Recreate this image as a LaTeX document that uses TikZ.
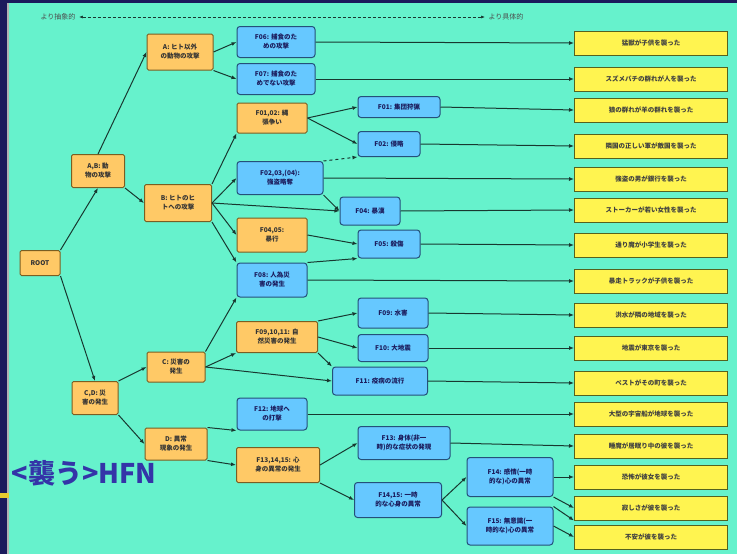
\documentclass[tikz,border=0pt]{standalone}
\usepackage{fontspec}
\newfontfamily\jpfont{Noto Sans CJK JP}
\usetikzlibrary{arrows.meta}
\definecolor{panel}{HTML}{66F2CC}
\definecolor{navy}{HTML}{1B1B5C}
\definecolor{grpfill}{HTML}{FFC966}
\definecolor{grpline}{HTML}{7A5E22}
\definecolor{clsfill}{HTML}{66C8FF}
\definecolor{clsline}{HTML}{24507A}
\definecolor{leaffill}{HTML}{FFF450}
\definecolor{leafline}{HTML}{55621E}
\definecolor{linecol}{HTML}{183830}
\definecolor{titleblue}{HTML}{3434A8}

\begin{document}
\begin{tikzpicture}[x=1pt,y=-1pt,
  grp/.style={draw=grpline,fill=grpfill,line width=1pt,rounded corners=1.5pt,align=center,inner sep=1pt,
    font=\jpfont\bfseries\fontsize{6.5}{9}\selectfont,text=black!80},
  cls/.style={grp,draw=clsline,fill=clsfill,rounded corners=3pt,text=navy},
  leaf/.style={draw=leafline,fill=leaffill,line width=1pt,minimum width=153pt,minimum height=24pt,
    font=\jpfont\bfseries\fontsize{6.5}{8}\selectfont,text=black!75},
  sz/.style 2 args={minimum width=#1pt,minimum height=#2pt},
  link/.style={-{Latex[length=5pt,width=4pt]},line width=1pt,draw=linecol}]
  \useasboundingbox (0,0) rectangle (737,554);
  \fill[navy] (0,0) rectangle (737,554);
  \fill[panel] (9,3) rectangle (737,554);
  \fill[black!30] (7,3) rectangle (9,554);
  \fill[yellow!60!brown] (0,493) rectangle (9,498);

  % abstract <-> concrete
  \node[font=\jpfont\fontsize{7}{8}\selectfont,text=black!70] (abs) at (58,17) {より抽象的};
  \node[font=\jpfont\fontsize{7}{8}\selectfont,text=black!70] (con) at (506,17) {より具体的};
  \draw[{Latex[length=4pt]}-{Latex[length=4pt]},densely dashed,line width=0.7pt,draw=linecol] (abs) -- (con);

  % inner groups
  \node[grp,sz={40}{25}] (root) at (40,263) {ROOT};
  \node[grp,sz={53}{33}] (ab) at (98,171) {A,B: 動\\物の攻撃};
  \node[grp,sz={46}{33}] (cd) at (95,398) {C,D: 災\\害の発生};
  \node[grp,sz={66}{36}] (a) at (180,52) {A: ヒト以外\\の動物の攻撃};
  \node[grp,sz={67}{37}] (b) at (178,203) {B: ヒトのヒ\\トへの攻撃};
  \node[grp,sz={58}{30}] (c) at (176,367) {C: 災害の\\発生};
  \node[grp,sz={62}{32}] (d) at (176,444) {D: 異常\\現象の発生};
  \node[grp,sz={70}{30}] (f0102) at (272,118) {F01,02: 縄\\張争い};
  \node[grp,sz={70}{34}] (f0405) at (272,235) {F04,05:\\暴行};
  \node[grp,sz={81}{31}] (f0911) at (277,337) {F09,10,11: 自\\然災害の発生};
  \node[grp,sz={83}{35}] (f1315) at (278,465) {F13,14,15: 心\\身の異常の発生};

  % classes
  \node[cls,sz={78}{31}] (f06) at (276,42) {F06: 捕食のた\\めの攻撃};
  \node[cls,sz={78}{31}] (f07) at (276,79) {F07: 捕食のた\\めでない攻撃};
  \node[cls,sz={82}{21}] (f01) at (399,107) {F01: 集団狩猟};
  \node[cls,sz={62}{25}] (f02) at (389,144) {F02: 侵略};
  \node[cls,sz={86}{33}] (f0203) at (280,178) {F02,03,(04):\\強盗略奪};
  \node[cls,sz={60}{28}] (f04) at (370,211) {F04: 暴漢};
  \node[cls,sz={62}{28}] (f05) at (389,244) {F05: 殺傷};
  \node[cls,sz={70}{34}] (f08) at (272,280) {F08: 人為災\\害の発生};
  \node[cls,sz={70}{30}] (f09) at (393,313) {F09: 水害};
  \node[cls,sz={70}{27}] (f10) at (393,348) {F10: 大地震};
  \node[cls,sz={95}{28}] (f11) at (380,381) {F11: 疫病の流行};
  \node[cls,sz={70}{32}] (f12) at (272,414) {F12: 地球へ\\の打撃};
  \node[cls,sz={92}{33}] (f13) at (404,443) {F13: 身体(非一\\時)的な症状の発現};
  \node[cls,sz={87}{35}] (f1415) at (398,500) {F14,15: 一時\\的な心身の異常};
  \node[cls,sz={86}{39}] (f14) at (510,477) {F14: 感情(一時\\的な)心の異常};
  \node[cls,sz={86}{38}] (f15) at (510,526) {F15: 無意識(一\\時的な)心の異常};

  % instances
  \foreach \y/\t [count=\i] in {43/猛獣が子供を襲った,79/スズメバチの群れが人を襲った,
      110/狼の群れが羊の群れを襲った,146/隣国の正しい軍が敵国を襲った,
      179/強盗の男が銀行を襲った,210/ストーカーが若い女性を襲った,
      245/通り魔が小学生を襲った,281/暴走トラックが子供を襲った,
      315/洪水が隣の地域を襲った,348/地震が東京を襲った,
      383/ペストがその町を襲った,414/大型の宇宙船が地球を襲った,
      446/睡魔が居眠り中の彼を襲った,477/恐怖が彼女を襲った,
      508/寂しさが彼を襲った,537/不安が彼を襲った}
    \node[leaf] (l\i) at (651,\y) {\t};

  % tree links
  \draw[link] (root.north east) -- (ab.south);
  \draw[link] (root.south east) -- (cd.north);
  \draw[link] (ab.north) -- (a.west);
  \draw[link] (ab.south east) -- (b.west);
  \draw[link] (cd.north east) -- (c.west);
  \draw[link] (cd.south east) -- (d.west);
  \draw[link] (a.east) -- (f06.west);
  \draw[link] (a.south east) -- (f07.west);
  \draw[link] (b.north east) -- (f0102.south west);
  \draw[link] (b.east) -- (f0203.west);
  \draw[link] (b.east) -- (f04.west);
  \draw[link] (b.east) -- (f0405.west);
  \draw[link] (b.south east) -- (f08.north west);
  \draw[link] (f0102.east) -- (f01.west);
  \draw[link] (f0102.east) -- (f02.west);
  \draw[link,dashed] (f0203.north east) -- (f02.south west);
  \draw[link] (f0203.south east) -- (f04.west);
  \draw[link] (f0405.east) -- (f05.west);
  \draw[link] (f08.north east) -- (f05.south west);
  \draw[link] (c.north east) -- (f08.south west);
  \draw[link] (c.east) -- (f0911.south west);
  \draw[link] (c.east) -- (f11.west);
  \draw[link] (f0911.north east) -- (f09.west);
  \draw[link] (f0911.east) -- (f10.west);
  \draw[link] (f0911.south east) -- (f11.north west);
  \draw[link] (d.north east) -- (f12.south west);
  \draw[link] (d.south east) -- (f1315.west);
  \draw[link] (f1315.east) -- (f13.west);
  \draw[link] (f1315.south east) -- (f1415.west);
  \draw[link] (f1415.east) -- (f14.west);
  \draw[link] (f1415.east) -- (f15.west);

  % to instances
  \foreach \a/\b in {f06/l1,f07/l2,f01/l3,f02/l4,f0203/l5,f04/l6,f05/l7,f08/l8,
      f09/l9,f10/l10,f11/l11,f12/l12,f13/l13,f14/l14,f15/l16}
    \draw[link] (\a.east) -- (\b.west);
  \draw[link] (f14.south east) -- (l15.west);
  \draw[link] (f15.north east) -- (l15.south west);

  \node[font=\jpfont\bfseries\fontsize{27}{30}\selectfont,text=titleblue,inner sep=0pt] (hfn) at (84,473) {<襲う>HFN};
\end{tikzpicture}
\end{document}
